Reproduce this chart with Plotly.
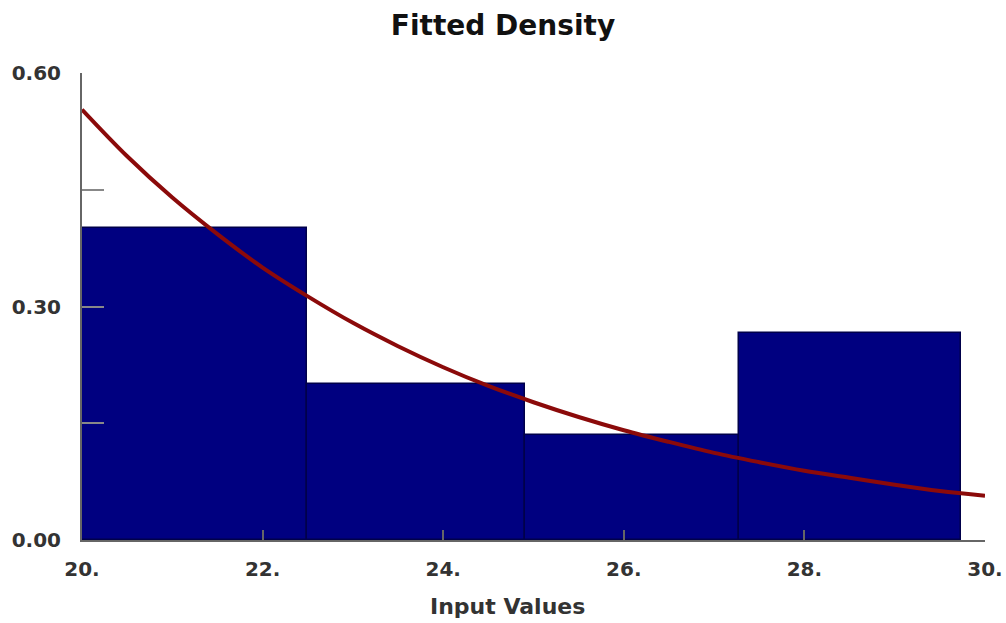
import plotly.graph_objects as go

# Histogram bins (left edges, right edges) and densities
bin_left = [20.0, 22.49, 24.91, 27.28]
bin_right = [22.49, 24.91, 27.28, 29.73]
density = [0.401, 0.201, 0.135, 0.266]

# Fitted density curve
curve_x = [20.0, 20.5, 21.0, 21.5, 22.0, 22.5, 23.0, 23.5, 24.0, 24.5, 25.0,
           25.5, 26.0, 26.5, 27.0, 27.5, 28.0, 28.5, 29.0, 29.5, 30.0]
curve_y = [0.553, 0.493, 0.440, 0.393, 0.350, 0.313, 0.279, 0.249, 0.222, 0.198, 0.177,
           0.158, 0.141, 0.126, 0.112, 0.100, 0.089, 0.080, 0.071, 0.063, 0.057]

x_ticks = [20, 22, 24, 26, 28, 30]
x_tick_labels = ["20.", "22.", "24.", "26.", "28.", "30."]
y_ticks = [0.0, 0.3, 0.6]
y_tick_labels = ["0.00", "0.30", "0.60"]

centers = [(a + b) / 2 for a, b in zip(bin_left, bin_right)]
widths = [b - a for a, b in zip(bin_left, bin_right)]

fig = go.Figure()
fig.add_trace(go.Bar(
    x=centers, y=density, width=widths,
    marker=dict(color="#000080", line=dict(color="#00004a", width=1.5)),
    hoverinfo="skip",
))
fig.add_trace(go.Scatter(
    x=curve_x, y=curve_y, mode="lines",
    line=dict(color="#8b0a0a", width=4, shape="spline"),
))

tick_font = dict(family="DejaVu Sans", size=20, color="#333333")
fig.update_layout(
    width=1006, height=623,
    paper_bgcolor="white", plot_bgcolor="white",
    margin=dict(l=82, r=21, t=73, b=83),
    showlegend=False,
    bargap=0,
    title=dict(text="<b>Fitted Density</b>", x=0.5, xanchor="center", y=1 - 25 / 623, yanchor="middle",
               font=dict(family="DejaVu Sans", size=28, color="#111111")),
    xaxis=dict(
        range=[20, 30], tickvals=x_ticks, ticktext=["<b>%s</b>" % t for t in x_tick_labels],
        ticks="inside", ticklen=10, tickwidth=1.5, tickcolor="#666666",
        showline=True, linecolor="#666666", linewidth=2, showgrid=False, zeroline=False,
        tickfont=tick_font, ticklabelstandoff=10, automargin=False,
    ),
    yaxis=dict(
        range=[0, 0.6], tickvals=y_ticks, ticktext=["<b>%s</b>" % t for t in y_tick_labels],
        ticks="inside", ticklen=22, tickwidth=1.5, tickcolor="#888888",
        minor=dict(tickvals=[0.15, 0.45], ticks="inside", ticklen=22, tickwidth=1.5, tickcolor="#888888"),
        showline=True, linecolor="#666666", linewidth=2, showgrid=False, zeroline=False,
        tickfont=tick_font, ticklabelstandoff=15, automargin=False,
    ),
    annotations=[dict(
        text="<b>Input Values</b>", xref="paper", yref="paper",
        x=(507 - 82) / 903, y=-(606 - 540) / 467, xanchor="center", yanchor="middle",
        showarrow=False, font=dict(family="DejaVu Sans", size=22, color="#333333"),
    )],
)

fig.write_html("out.html", config={"displayModeBar": False},
               post_script="document.body.style.margin='0';document.body.style.overflow='hidden';")
